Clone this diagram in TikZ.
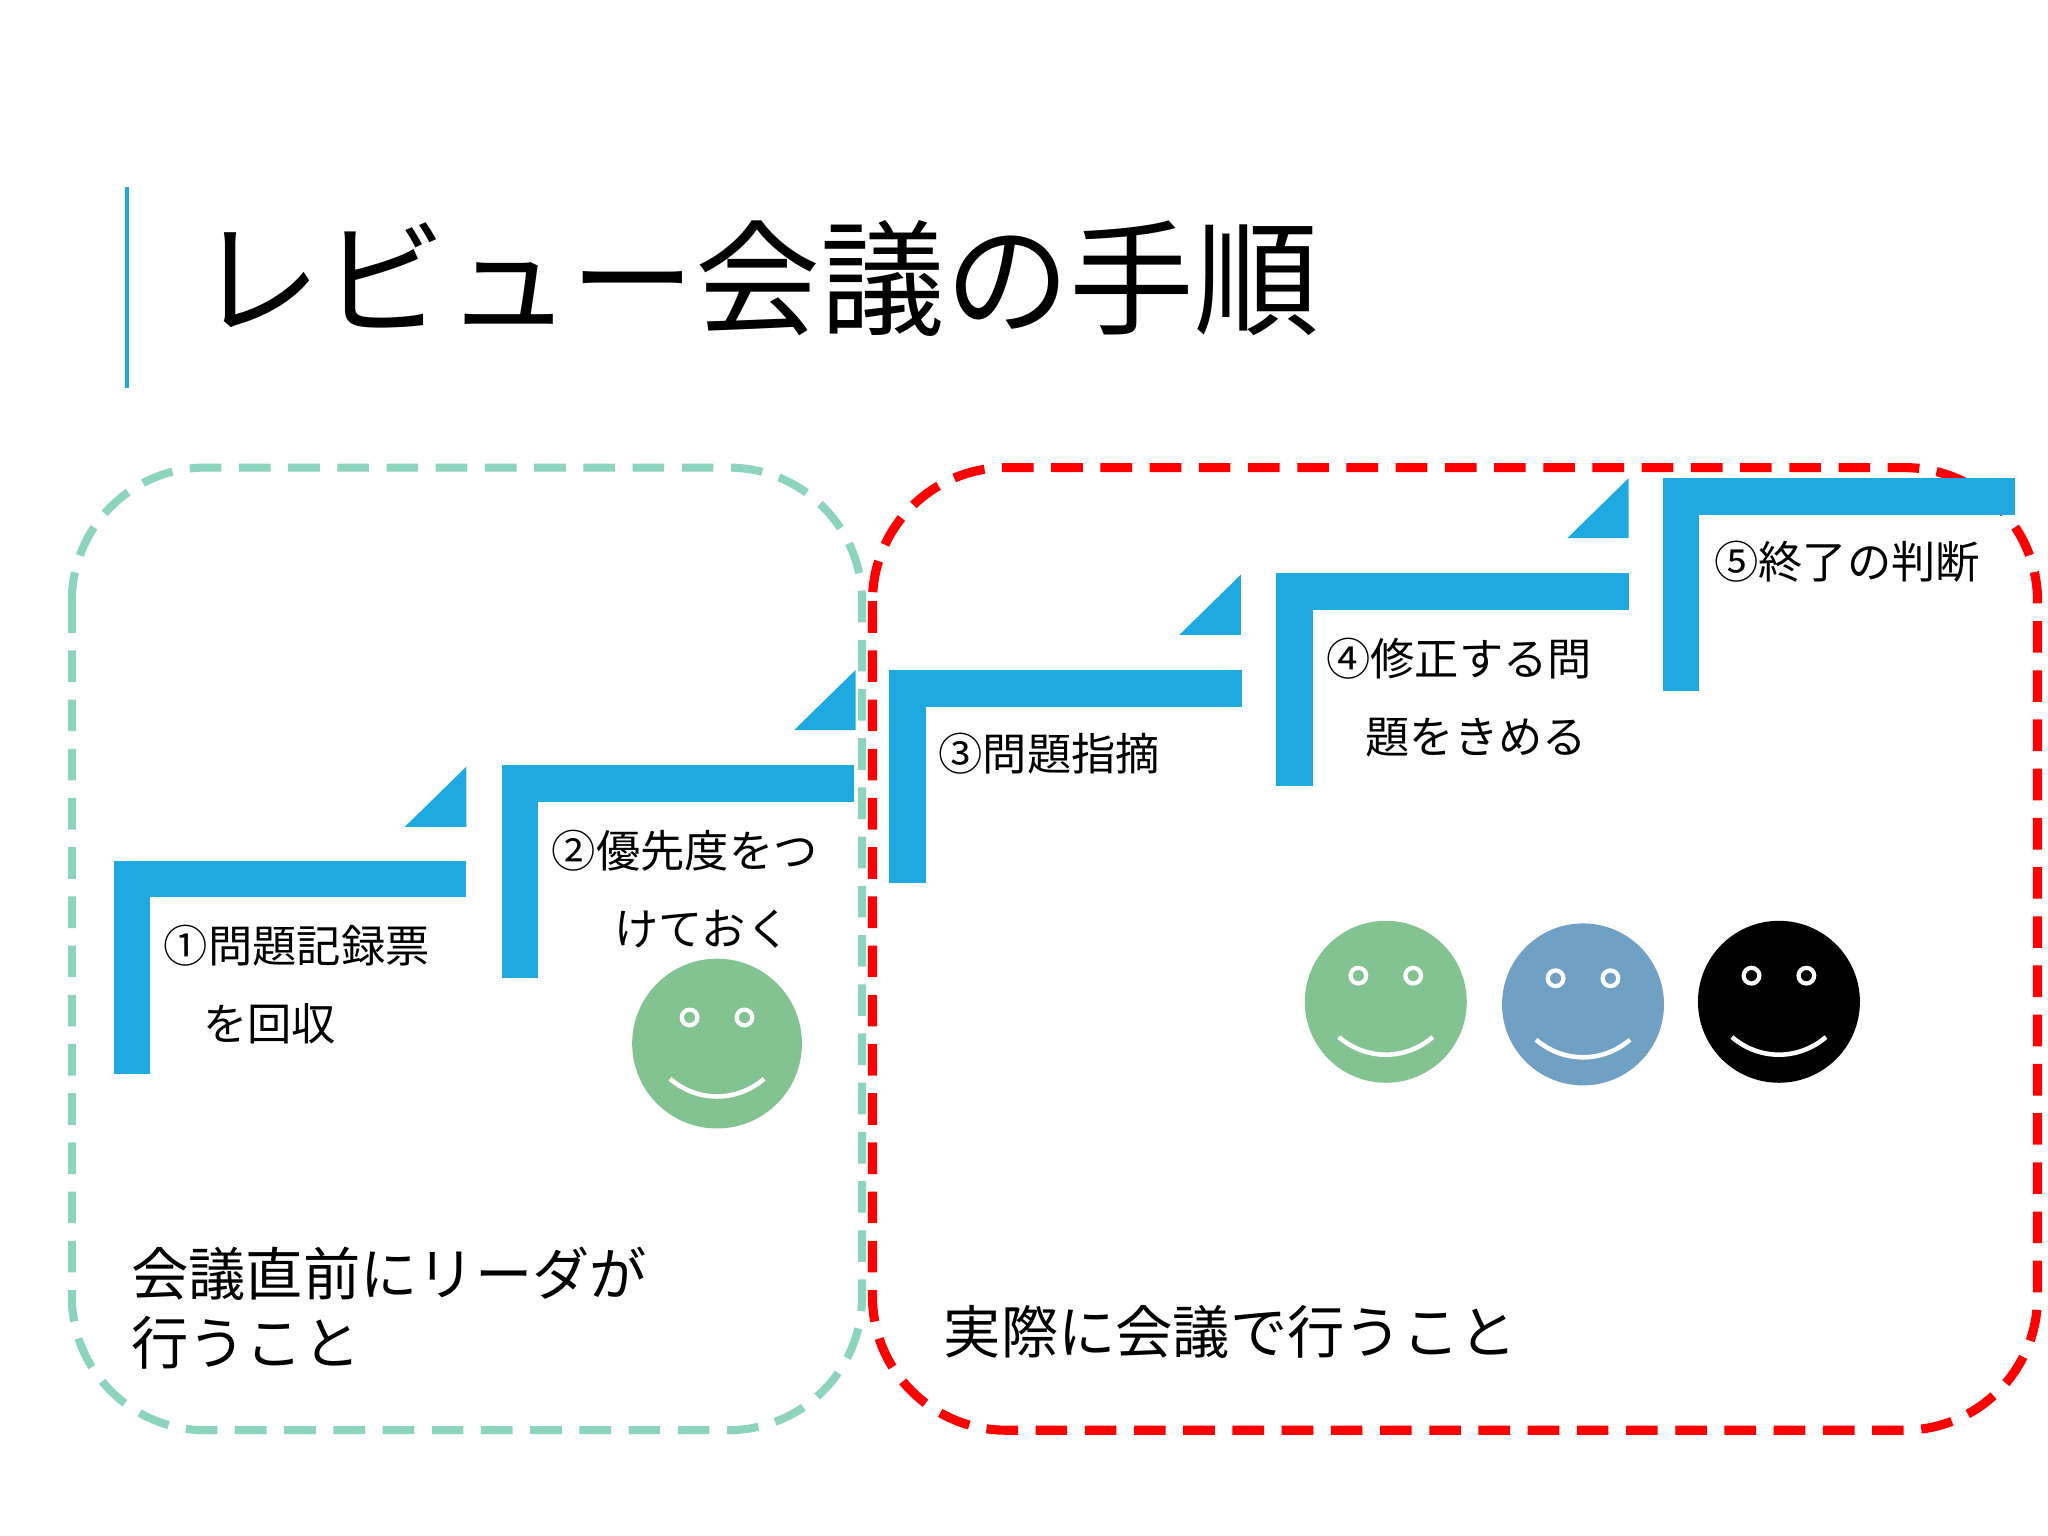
\documentclass[tikz,border=0pt]{standalone}
\usepackage{fontspec}
\setmainfont{Noto Sans CJK JP}
\definecolor{stepblue}{RGB}{30,170,225}
\definecolor{grnline}{RGB}{140,212,190}
\definecolor{facegreen}{RGB}{130,195,145}
\definecolor{faceblue}{RGB}{112,160,195}
\begin{document}
\begin{tikzpicture}[x=0.013061cm,y=-0.013061cm,
  steptxt/.style={anchor=west,inner sep=0,font=\fontsize{12.6pt}{14pt}\selectfont},
  bigtxt/.style={anchor=west,inner sep=0,font=\fontsize{16.3pt}{18pt}\selectfont},
  stair/.style={fill=stepblue},
  eye/.style={draw=white,line width=1.2pt},
  smile/.style={draw=white,line width=1.3pt}]
\useasboundingbox (0,0) rectangle (1568,1176);
\fill[white] (0,0) rectangle (1568,1176);
% title
\draw[stepblue,line width=1.2pt] (97,143) -- (97,297);
\node[anchor=west,inner sep=0,font=\fontsize{35.5pt}{40pt}\selectfont] (title) at (150,213) {レビュー会議の手順};
% frames
\draw[grnline,line width=2.3pt,dash pattern=on 9pt off 5pt,rounded corners=38pt] (55,358) rectangle (660,1095);
\draw[red,line width=2.6pt,dash pattern=on 9pt off 5pt,rounded corners=38pt] (668,358) rectangle (1560,1095);
% stairs
\foreach \x/\y in {87/659,384/586,681/513,977/439,1273/366}{
  \fill[stair] (\x,\y) rectangle ++(28,163);
  \fill[stair] (\x,\y) rectangle ++(270,28);
}
\foreach \x/\y in {357/587,655/513,950/440,1247/366}{
  \fill[stair] (\x,\y) -- (\x,\y+46) -- (\x-47,\y+46) -- cycle;
}
% texts
\node[steptxt] (t1a) at (125,724) {①問題記録票};
\node[steptxt] (t1b) at (155,784) {を回収};
\node[steptxt] (t2a) at (422,651) {②優先度をつ};
\node[steptxt] (t2b) at (470,711) {けておく};
\node[steptxt] (t3) at (718,577) {③問題指摘};
\node[steptxt] (t4a) at (1015,504) {④修正する問};
\node[steptxt] (t4b) at (1045,565) {題をきめる};
\node[steptxt] (t5) at (1312,430) {⑤終了の判断};
\node[bigtxt] (b1) at (100,975) {会議直前にリーダが};
\node[bigtxt] (b2) at (100,1028) {行うこと};
\node[bigtxt] (b3) at (722,1020) {実際に会議で行うこと};
% faces
\foreach \cx/\cy/\r/\c in {549/799/65/facegreen,1061/767/62/facegreen,1212/769/62/faceblue,1362/767/62/black}{
  \fill[\c] (\cx,\cy) circle (\r);
  \draw[eye] (\cx-21,\cy-20) circle (6);
  \draw[eye] (\cx+21,\cy-20) circle (6);
  \draw[smile] (\cx-36,\cy+27) .. controls (\cx-15,\cy+45) and (\cx+15,\cy+45) .. (\cx+36,\cy+27);
}
\end{tikzpicture}
\end{document}
